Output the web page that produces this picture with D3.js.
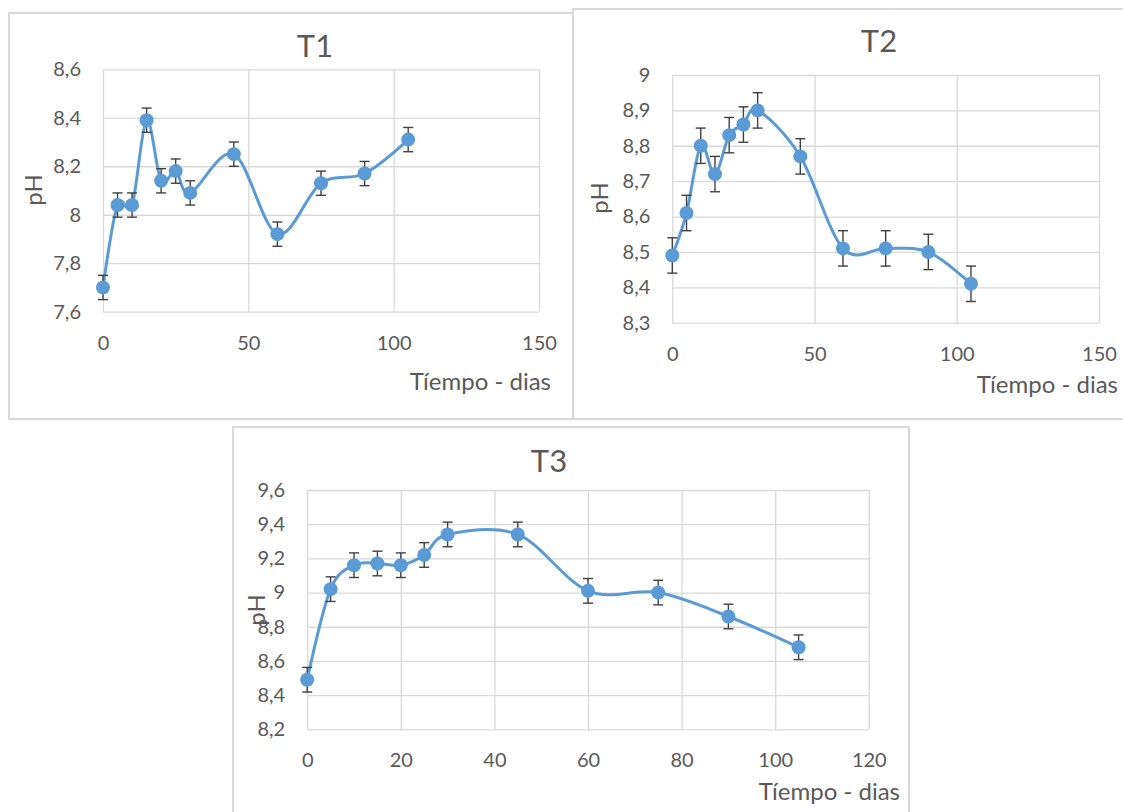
<!DOCTYPE html>
<html>
<head>
<meta charset="utf-8">
<script src="https://cdn.jsdelivr.net/npm/d3@7"></script>
<style>
	body { margin: 0; background: #fff; }
	svg { display: block; font-family: Lato, "Noto Sans", sans-serif; }
	.grid line { stroke: #d9d9d9; stroke-width: 1.3px; }
	.ticks text { fill: #595959; font-size: 20px; }
	.title { fill: #595959; font-size: 31px; }
	.atitle { fill: #595959; font-size: 24px; }
</style>
</head>
<body>
<div id="chart"></div>
<script>
// sampling days (same for the three treatments)
var days = [0, 5, 10, 15, 20, 25, 30, 45, 60, 75, 90, 105];

// pH values
var t1PH = [7.70, 8.04, 8.04, 8.39, 8.14, 8.18, 8.09, 8.25, 7.92, 8.13, 8.17, 8.31];
var t2PH = [8.49, 8.61, 8.80, 8.72, 8.83, 8.86, 8.90, 8.77, 8.51, 8.51, 8.50, 8.41];
var t3PH = [8.49, 9.02, 9.16, 9.17, 9.16, 9.22, 9.34, 9.34, 9.01, 9.00, 8.86, 8.68];

// error bar sizes
var t1Err = [0.05, 0.05, 0.05, 0.05, 0.05, 0.05, 0.05, 0.05, 0.05, 0.05, 0.05, 0.05];
var t2Err = [0.05, 0.05, 0.05, 0.05, 0.05, 0.05, 0.05, 0.05, 0.05, 0.05, 0.05, 0.05];
var t3Err = [0.072, 0.072, 0.072, 0.072, 0.072, 0.072, 0.072, 0.072, 0.072, 0.072, 0.072, 0.072];

// tick labels
var t1XTicks = [0, 50, 100, 150];
var t1YTicks = [7.6, 7.8, 8, 8.2, 8.4, 8.6];
var t2XTicks = [0, 50, 100, 150];
var t2YTicks = [8.3, 8.4, 8.5, 8.6, 8.7, 8.8, 8.9, 9];
var t3XTicks = [0, 20, 40, 60, 80, 100, 120];
var t3YTicks = [8.2, 8.4, 8.6, 8.8, 9, 9.2, 9.4, 9.6];

var xTitle = "Tíempo - dias";
var yTitle = "pH";

var W = 1123, H = 812;
var blue = "#5b9bd5";

var svg = d3.select("#chart").append("svg").attr("width", W).attr("height", H);

// comma decimals, like the spanish Excel
var fmt = function(d) { return String(d).replace(".", ","); };

function drawPanel(p) {
	// frame of the chart object
	svg.append("rect")
		.attr("x", p.box[0]).attr("y", p.box[1])
		.attr("width", p.box[2]).attr("height", p.box[3])
		.attr("fill", "#fff")
		.attr("stroke", "#d9d9d9")
		.attr("stroke-width", 2);

	var x = d3.scaleLinear().domain(d3.extent(p.xTicks)).range([p.left, p.right]);
	var y = d3.scaleLinear().domain(d3.extent(p.yTicks)).range([p.bottom, p.top]);
	var w = p.right - p.left, h = p.bottom - p.top;

	// gridlines
	svg.append("g").attr("class", "grid")
		.attr("transform", "translate(" + p.left + ",0)")
		.call(d3.axisLeft(y).tickValues(p.yTicks).tickSize(-w).tickFormat(""))
		.call(function(g) { g.select(".domain").remove(); });
	svg.append("g").attr("class", "grid")
		.attr("transform", "translate(0," + p.bottom + ")")
		.call(d3.axisBottom(x).tickValues(p.xTicks).tickSize(-h).tickFormat(""))
		.call(function(g) { g.select(".domain").remove(); });

	// tick labels
	svg.append("g").attr("class", "ticks")
		.attr("transform", "translate(" + p.left + ",0)")
		.call(d3.axisLeft(y).tickValues(p.yTicks).tickSize(0).tickPadding(22).tickFormat(fmt))
		.call(function(g) { g.select(".domain").remove(); g.attr("font-family", null).attr("font-size", null); });
	svg.append("g").attr("class", "ticks")
		.attr("transform", "translate(0," + p.bottom + ")")
		.call(d3.axisBottom(x).tickValues(p.xTicks).tickSize(0).tickPadding(24).tickFormat(fmt))
		.call(function(g) { g.select(".domain").remove(); g.attr("font-family", null).attr("font-size", null); });

	// titles
	svg.append("text").attr("class", "title")
		.attr("x", p.titlePos[0]).attr("y", p.titlePos[1])
		.attr("text-anchor", "middle")
		.text(p.title);
	svg.append("text").attr("class", "atitle")
		.attr("x", p.xTitlePos[0]).attr("y", p.xTitlePos[1])
		.attr("text-anchor", "end")
		.text(xTitle);
	svg.append("text").attr("class", "atitle")
		.attr("transform", "translate(" + p.yTitlePos[0] + "," + p.yTitlePos[1] + ") rotate(-90)")
		.attr("text-anchor", "middle")
		.attr("dy", "0.35em")
		.text(yTitle);

	var data = days.map(function(d, i) { return {x: d, y: p.values[i], e: p.errs[i]}; });

	// smoothed line (Excel smoothing ~ uniform Catmull-Rom)
	var line = d3.line()
		.x(function(d) { return x(d.x); })
		.y(function(d) { return y(d.y); })
		.curve(d3.curveCardinal.tension(0));

	svg.append("path")
		.datum(data)
		.attr("d", line)
		.attr("fill", "none")
		.attr("stroke", blue)
		.attr("stroke-width", 3)
		.attr("stroke-linejoin", "round");

	// error bars
	var eb = svg.append("g")
		.attr("stroke", "#404040")
		.attr("stroke-width", 1.4);
	eb.selectAll("line.error-line").data(data).enter().append("line")
		.attr("class", "error-line")
		.attr("x1", function(d) { return x(d.x); })
		.attr("x2", function(d) { return x(d.x); })
		.attr("y1", function(d) { return y(d.y + d.e); })
		.attr("y2", function(d) { return y(d.y - d.e); });
	eb.selectAll("line.error-cap-top").data(data).enter().append("line")
		.attr("class", "error-cap-top")
		.attr("x1", function(d) { return x(d.x) - 5; })
		.attr("x2", function(d) { return x(d.x) + 5; })
		.attr("y1", function(d) { return y(d.y + d.e); })
		.attr("y2", function(d) { return y(d.y + d.e); });
	eb.selectAll("line.error-cap-bottom").data(data).enter().append("line")
		.attr("class", "error-cap-bottom")
		.attr("x1", function(d) { return x(d.x) - 5; })
		.attr("x2", function(d) { return x(d.x) + 5; })
		.attr("y1", function(d) { return y(d.y - d.e); })
		.attr("y2", function(d) { return y(d.y - d.e); });

	// markers
	svg.append("g").selectAll("circle").data(data).enter().append("circle")
		.attr("cx", function(d) { return x(d.x); })
		.attr("cy", function(d) { return y(d.y); })
		.attr("r", 7)
		.attr("fill", blue);
}

drawPanel({
	title: "T1", values: t1PH, errs: t1Err, xTicks: t1XTicks, yTicks: t1YTicks,
	box: [9, 13, 564, 406],
	left: 103, right: 539, top: 69.3, bottom: 311.7,
	titlePos: [315, 57], xTitlePos: [551, 390], yTitlePos: [34, 190]
});
drawPanel({
	title: "T2", values: t2PH, errs: t2Err, xTicks: t2XTicks, yTicks: t2YTicks,
	box: [573, 9, 560, 410],
	left: 672.3, right: 1099, top: 75, bottom: 322.7,
	titlePos: [879, 52], xTitlePos: [1118, 393], yTitlePos: [600, 198]
});
drawPanel({
	title: "T3", values: t3PH, errs: t3Err, xTicks: t3XTicks, yTicks: t3YTicks,
	box: [233, 427, 676, 400],
	left: 307.2, right: 868.8, top: 490, bottom: 729.3,
	titlePos: [549, 472], xTitlePos: [900, 800], yTitlePos: [257, 610]
});
</script>
</body>
</html>
